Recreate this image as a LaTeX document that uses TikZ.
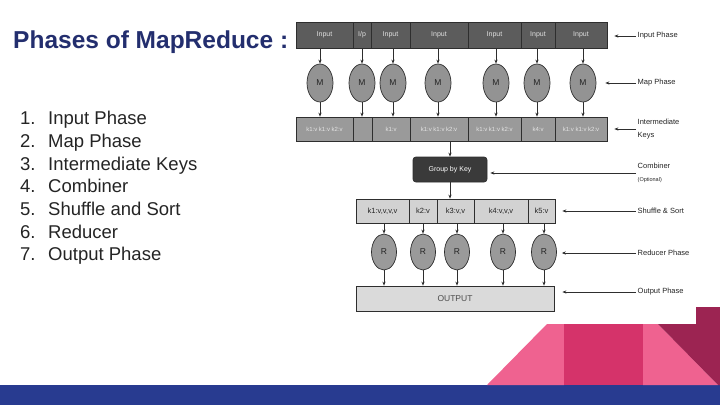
\documentclass[tikz,border=0pt]{standalone}
\usepackage{fontspec}
\setmainfont{Liberation Sans}
\usetikzlibrary{positioning, arrows.meta, shapes.geometric}
\definecolor{mrnavy}{HTML}{232E6E}
\definecolor{mrtext}{HTML}{242424}
\definecolor{boxline}{HTML}{2E2E2E}
\definecolor{inputgray}{HTML}{5C5C5C}
\definecolor{keygray}{HTML}{9A9A9A}
\definecolor{ellgray}{HTML}{939393}
\definecolor{shufgray}{HTML}{D2D2D2}
\definecolor{outgray}{HTML}{DADADA}
\definecolor{grpgray}{HTML}{3A3A3A}
\definecolor{slideblue}{HTML}{283B90}
\definecolor{pinklight}{HTML}{EF6290}
\definecolor{pinkmid}{HTML}{D5336A}
\definecolor{pinkdark}{HTML}{9C2452}

\begin{document}
\begin{tikzpicture}[
      x=1pt, y=-1pt,
      every node/.style={font=\fontsize{7}{8}\selectfont},
      inbox/.style={draw=boxline, line width=0.7pt, fill=inputgray, text=white!88!black, minimum height=26pt, inner sep=0pt},
      keybox/.style={draw=boxline, line width=0.7pt, fill=keygray, text=white!90!black, minimum height=24pt, inner sep=0pt, font=\fontsize{6}{7}\selectfont},
      shufbox/.style={draw=boxline, line width=0.7pt, fill=shufgray, text=mrtext, minimum height=24pt, inner sep=0pt, font=\fontsize{7.5}{8}\selectfont},
      worker/.style={ellipse, draw=boxline, line width=0.7pt, fill=ellgray, text=mrtext, inner sep=0pt, font=\fontsize{8.5}{9}\selectfont},
      phase/.style={anchor=west, inner sep=1.5pt, text=mrtext, align=left, font=\fontsize{7.5}{13}\selectfont},
      listnum/.style={anchor=base west, inner sep=0pt, text=mrtext, font=\fontsize{18.5}{20}\selectfont},
      flow/.style={draw=boxline, line width=0.8pt},
      >={Stealth[length=4pt, width=3.2pt]},
    ]
    \useasboundingbox (0,0) rectangle (720,405);

    % title and list
    \node[anchor=west, inner sep=0pt, text=mrnavy, font=\bfseries\fontsize{24.5}{28}\selectfont] (title) at (13, 42) {Phases of MapReduce :};
    \foreach \txt [count=\i] in {Input Phase, Map Phase, Intermediate Keys, Combiner, Shuffle and Sort, Reducer, Output Phase} {
      \node[listnum] (num\i) at (20, {101.9 + 22.7*\i}) {\i.};
      \node[listnum] (item\i) at (48, {101.9 + 22.7*\i}) {\txt};
    }

    % input row and mappers
    \foreach \xa/\xb/\txt [count=\i] in {296/353/Input, 353/371/{I/p}, 371/410/Input, 410/468/Input, 468/521/Input, 521/555/Input, 555/607/Input}
      \node[inbox, minimum width={(\xb-\xa)*1pt}] (in\i) at ({(\xa+\xb)/2}, 35) {\txt};
    \foreach \mx [count=\i] in {320, 362, 393, 438, 496, 537, 583}
      \node[worker, minimum width=26pt, minimum height=38pt] (m\i) at (\mx, 83) {M};

    % intermediate keys
    \foreach \xa/\xb/\txt [count=\i] in {296/353/k1:v k1:v k2:v, 353/372/{}, 372/410/k1:v, 410/468/k1:v k1:v k2:v, 468/521/k1:v k1:v k2:v, 521/555/k4:v, 555/607/k1:v k1:v k2:v}
      \node[keybox, minimum width={(\xb-\xa)*1pt}] (ik\i) at ({(\xa+\xb)/2}, 129) {\txt};
    \foreach \i in {1,...,7} {
      \draw[->, flow] (m\i.north |- in\i.south) -- (m\i.north);
      \draw[->, flow] (m\i.south) -- (m\i.south |- ik\i.north);
    }

    % combiner
    \node[draw=boxline, line width=0.7pt, fill=grpgray, text=white, rounded corners=3pt, minimum width=74pt, minimum height=25pt, inner sep=0pt] (grp) at (450, 169.5) {Group by Key};
    \draw[->, flow] (grp.north |- ik4.south) -- (grp.north);

    % shuffle, reducers, output
    \foreach \xa/\xb/\txt [count=\i] in {356/409/{k1:v,v,v,v}, 409/437/k2:v, 437/474/{k3:v,v}, 474/528/{k4:v,v,v}, 528/555/k5:v}
      \node[shufbox, minimum width={(\xb-\xa)*1pt}] (sh\i) at ({(\xa+\xb)/2}, 211) {\txt};
    \draw[->, flow] (grp.south) -- (grp.south |- sh1.north);
    \foreach \rx [count=\i] in {384, 423, 457, 503, 544}
      \node[worker, fill=keygray, minimum width=25pt, minimum height=36pt] (r\i) at (\rx, 252) {R};
    \node[draw=boxline, line width=0.7pt, fill=outgray, text=black!70, minimum width=198pt, minimum height=25pt, inner sep=0pt, font=\fontsize{8.5}{9}\selectfont] (out) at (455, 298.5) {OUTPUT};
    \foreach \i in {1,...,5} {
      \draw[->, flow] (r\i.north |- sh\i.south) -- (r\i.north);
      \draw[->, flow] (r\i.south) -- (r\i.south |- out.north);
    }

    % phase labels
    \node[phase] (lin) at (636, 36) {Input Phase};
    \node[phase] (lmap) at (636, 83) {Map Phase};
    \node[phase] (lik) at (636, 129) {Intermediate\\Keys};
    \node[phase] (lcomb) at (636, 173) {Combiner\\{\fontsize{5.5}{6}\selectfont(Optional)}};
    \node[phase] (lsh) at (636, 211) {Shuffle \& Sort};
    \node[phase] (lred) at (636, 253) {Reducer Phase};
    \node[phase] (lout) at (636, 292) {Output Phase};
    \draw[->, flow, shorten >=7pt] (lin.west) -- (lin.west -| in7.east);
    \draw[->, flow, shorten >=9pt] (lmap.west) -- (lmap.west -| m7.east);
    \draw[->, flow, shorten >=7pt] (lik.west) -- (lik.west -| ik7.east);
    \draw[->, flow, shorten >=3pt] (lcomb.west) -- (lcomb.west -| grp.east);
    \draw[->, flow, shorten >=7pt] (lsh.west) -- (lsh.west -| sh5.east);
    \draw[->, flow, shorten >=5pt] (lred.west) -- (lred.west -| r5.east);
    \draw[->, flow, shorten >=8pt] (lout.west) -- (lout.west -| out.east);

    % slide decoration
    \fill[slideblue] (0,385) rectangle (720,405);
    \fill[pinklight] (487,385) -- (547,324) -- (564,324) -- (564,385) -- cycle;
    \fill[pinkmid] (564,324) rectangle (643,385);
    \fill[pinklight] (643,324) -- (658,324) -- (718,385) -- (643,385) -- cycle;
    \fill[pinkdark] (658,324) -- (696,324) -- (696,307) -- (720,307) -- (720,385) -- (718,385) -- cycle;
  \end{tikzpicture}
\end{document}
